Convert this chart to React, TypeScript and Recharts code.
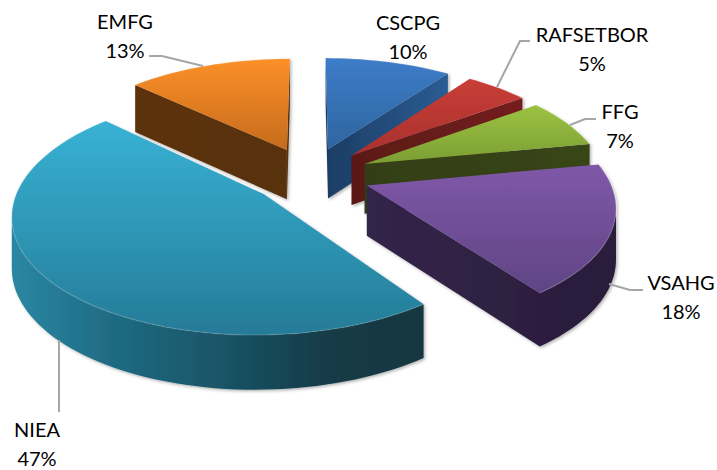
import { PieChart, Pie } from "recharts";

const categories = ["CSCPG", "RAFSETBOR", "FFG", "VSAHG", "NIEA", "EMFG"];
const shares = [10, 5, 7, 18, 47, 13];

const data = categories.map((name, i) => ({ name, value: shares[i] }));

// top face gradient (far edge, near edge) and side wall gradient (left to right)
const TOP_FILL: Record<string, string[]> = {
  CSCPG: ["#3d7cc9", "#2e659f"],
  RAFSETBOR: ["#c93d37", "#a8322e"],
  FFG: ["#9cc242", "#7a9e33"],
  VSAHG: ["#8058a8", "#5f4485"],
  NIEA: ["#38b2d5", "#257b97"],
  EMFG: ["#fc9029", "#c56b1c"],
};
const WALL_FILL: Record<string, string[]> = {
  CSCPG: ["#1b3d63", "#2b5c94"],
  RAFSETBOR: ["#5a1917", "#741f1d"],
  FFG: ["#333e14", "#384517"],
  VSAHG: ["#33254a", "#2a1c3a"],
  NIEA: ["#2a87a3", "#1f6a82", "#1a5568", "#123c48", "#12363f"],
  EMFG: ["#5c3210", "#58300f"],
};

// where each label sits and the leader line running to it
const LABEL_AT: Record<string, { x: number; y: number; line?: number[][] }> = {
  CSCPG: { x: 408, y: 30 },
  RAFSETBOR: { x: 592, y: 42, line: [[497, 87], [520, 41], [530, 41]] },
  FFG: { x: 620, y: 119, line: [[570, 125], [585, 119], [596, 119]] },
  VSAHG: { x: 681, y: 290, line: [[609, 284], [630, 290], [643, 290]] },
  NIEA: { x: 37, y: 437, line: [[59, 340], [59, 412]] },
  EMFG: { x: 125, y: 29, line: [[149, 56], [162, 56], [203, 66]] },
};

const TILT = 0.155; // perspective strength
const SQUASH = 0.467; // ground plane flattening
const EXPLODE = 0.25;
const DEPTH = 50;

function project(cx: number, cy: number, r: number, gx: number, gf: number) {
  const w = 1 - TILT * gf;
  return { x: cx + (r * gx) / w, y: cy + (r * SQUASH * gf) / w, w };
}

function Slice(props: any) {
  const { cx, cy, outerRadius, startAngle, endAngle, name } = props;
  const a0 = 90 - startAngle;
  const a1 = 90 - endAngle;
  const mid = (((a0 + a1) / 2) * Math.PI) / 180;
  const ox = EXPLODE * Math.sin(mid);
  const of = -EXPLODE * Math.cos(mid);

  // clockwise outline: apex, then along the arc
  const pts = [project(cx, cy, outerRadius, ox, of)];
  const steps = Math.max(4, Math.ceil((a1 - a0) / 2));
  for (let i = 0; i <= steps; i++) {
    const t = ((a0 + ((a1 - a0) * i) / steps) * Math.PI) / 180;
    pts.push(project(cx, cy, outerRadius, ox + Math.sin(t), of - Math.cos(t)));
  }
  const drop = (p: { y: number; w: number }) => p.y + DEPTH * Math.pow(p.w, -0.45);
  const minX = Math.min(...pts.map((p) => p.x));
  const maxX = Math.max(...pts.map((p) => p.x));

  // walls: runs of outline edges heading left are the ones facing the viewer
  const ring = [...pts, pts[0]];
  const runs: (typeof pts)[] = [];
  let run: typeof pts = [];
  for (let i = 0; i < ring.length - 1; i++) {
    if (ring[i + 1].x < ring[i].x) {
      if (!run.length) run.push(ring[i]);
      run.push(ring[i + 1]);
    } else if (run.length) {
      runs.push(run);
      run = [];
    }
  }
  if (run.length) runs.push(run);

  const wallPath = (r: typeof pts) =>
    "M" +
    r.map((p) => `${p.x.toFixed(1)},${p.y.toFixed(1)}`).join("L") +
    "L" +
    [...r].reverse().map((p) => `${p.x.toFixed(1)},${drop(p).toFixed(1)}`).join("L") +
    "Z";
  const topPath =
    "M" + pts.map((p) => `${p.x.toFixed(1)},${p.y.toFixed(1)}`).join("L") + "Z";
  const arcPath =
    "M" + pts.slice(1).map((p) => `${p.x.toFixed(1)},${p.y.toFixed(1)}`).join("L");

  const wall = WALL_FILL[name];
  const top = TOP_FILL[name];
  return (
    <g filter="url(#softShadow)">
      <defs>
        <linearGradient id={`top-${name}`} x1="0" y1="0" x2="0" y2="1">
          <stop offset="0%" stopColor={top[0]} />
          <stop offset="100%" stopColor={top[1]} />
        </linearGradient>
        <linearGradient id={`wall-${name}`} gradientUnits="userSpaceOnUse" x1={minX} x2={maxX} y1={0} y2={0}>
          {wall.map((c, i) => (
            <stop key={i} offset={i / (wall.length - 1)} stopColor={c} />
          ))}
        </linearGradient>
      </defs>
      {runs.map((r, i) => (
        <path key={i} d={wallPath(r)} fill={`url(#wall-${name})`} />
      ))}
      <path d={topPath} fill={`url(#top-${name})`} />
      <path d={arcPath} fill="none" stroke="#ffffff" strokeOpacity={0.12} strokeWidth={1.5} />
    </g>
  );
}

function SliceLabel(props: any) {
  const { name, percent } = props;
  const at = LABEL_AT[name];
  return (
    <text textAnchor="middle" fontFamily="Lato" fontSize={20} fill="#000000">
      <tspan x={at.x} y={at.y}>{name}</tspan>
      <tspan x={at.x} y={at.y + 29}>{`${Math.round(percent * 100)}%`}</tspan>
    </text>
  );
}

function LeaderLine(props: any) {
  const line = LABEL_AT[props.name]?.line;
  if (!line) return <g />;
  return (
    <polyline
      points={line.map((p) => p.join(",")).join(" ")}
      fill="none"
      stroke="#a6a6a6"
      strokeWidth={2}
    />
  );
}

export default function App() {
  return (
    <div style={{ position: "absolute", left: 0, top: 0, width: 717, height: 470 }}>
      <PieChart width={717} height={470} margin={{ top: 0, right: 0, bottom: 0, left: 0 }}>
        <defs>
          <filter id="softShadow" x="-10%" y="-10%" width="120%" height="120%">
            <feDropShadow dx={1.5} dy={1.5} stdDeviation={1.5} floodColor="#000000" floodOpacity={0.3} />
          </filter>
        </defs>
        <Pie
          data={data}
          dataKey="value"
          nameKey="name"
          cx={310}
          cy={175}
          innerRadius={0}
          outerRadius={241}
          startAngle={90}
          endAngle={-270}
          stroke="none"
          shape={Slice}
          label={SliceLabel}
          labelLine={LeaderLine}
          isAnimationActive={false}
        />
      </PieChart>
    </div>
  );
}
